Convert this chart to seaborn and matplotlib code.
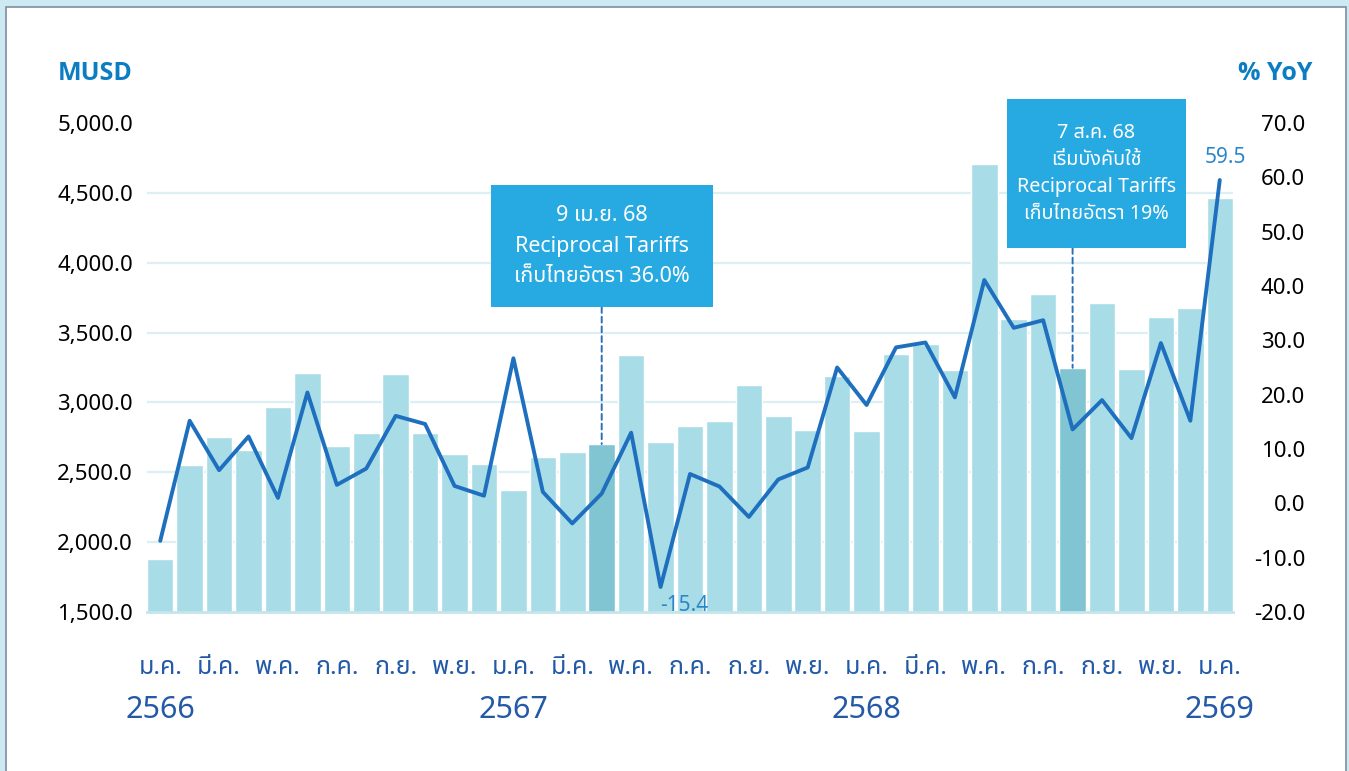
import numpy as np
import pandas as pd
import matplotlib
matplotlib.use("Agg")
import matplotlib.pyplot as plt
import seaborn as sns
from matplotlib import font_manager as fm
from matplotlib.ft2font import FT2Font
from matplotlib.patches import Rectangle
from matplotlib.ticker import FuncFormatter

# ---------------- data ----------------
period_keys = [f"{y}-{m:02d}" for y in (2566, 2567, 2568) for m in range(1, 13)] + ["2569-01"]
export_musd = [1876, 2552, 2750, 2662, 2967, 3214, 2686, 2783, 3207, 2783, 2629, 2562,
               2371, 2612, 2645, 2702, 3338, 2719, 2833, 2867, 3124, 2900, 2800, 3190,
               2793, 3348, 3421, 3233, 4705, 3595, 3779, 3248, 3712, 3240, 3612, 3679,
               4464]
yoy_pct = [-6.9, 15.2, 6.1, 12.3, 1.0, 20.4, 3.4, 6.4, 16.1, 14.6, 3.2, 1.4,
           26.7, 2.1, -3.7, 1.8, 13.0, -15.4, 5.4, 3.1, -2.5, 4.4, 6.6, 25.0,
           18.1, 28.7, 29.6, 19.5, 41.1, 32.3, 33.7, 13.6, 19.0, 12.0, 29.5, 15.2,
           59.5]
month_ticks = ["ม.ค.", "มี.ค.", "พ.ค.", "ก.ค.", "ก.ย.", "พ.ย.",
               "ม.ค.", "มี.ค.", "พ.ค.", "ก.ค.", "ก.ย.", "พ.ย.",
               "ม.ค.", "มี.ค.", "พ.ค.", "ก.ค.", "ก.ย.", "พ.ย.",
               "ม.ค."]
year_labels = ["2566", "2567", "2568", "2569"]
year_index = [0, 12, 24, 36]
highlight_index = [15, 31]
left_ticks = [1500, 2000, 2500, 3000, 3500, 4000, 4500, 5000]
right_ticks = [-20, -10, 0, 10, 20, 30, 40, 50, 60, 70]
note1_lines = ["9 เม.ย. 68", "Reciprocal Tariffs", "เก็บไทยอัตรา 36.0%"]
note2_lines = ["7 ส.ค. 68", "เริ่มบังคับใช้", "Reciprocal Tariffs", "เก็บไทยอัตรา 19%"]
label_points = [17, 36]

# ---------------- fonts ----------------
sns.set_style("white")


def wnum(w):
    if isinstance(w, str):
        return fm.weight_dict.get(w, 400)
    return int(w)


thai = []
weights = {}
for fe in fm.fontManager.ttflist:
    weights.setdefault(fe.name, set()).add(wnum(fe.weight))
    try:
        cm = FT2Font(fe.fname).get_charmap()
        if 0x0E01 in cm and 0x0E40 in cm and fe.name not in thai:
            thai.append(fe.name)
    except Exception:
        pass
pref = sorted(thai, key=lambda n: (0 if "Noto Sans Thai" == n else 1 if "Thai" in n else 2, n))
thai_font = pref[0] if pref else "DejaVu Sans"
fam = [thai_font, "Noto Sans", "DejaVu Sans"]
plt.rcParams["font.family"] = fam

bold_font = next((n for n in ["Noto Sans", "Open Sans", "Lato", "Roboto", "DejaVu Sans"]
                  if any(w >= 700 for w in weights.get(n, ()))), "DejaVu Sans")
thai_w = weights.get(thai_font, {400})
mid_weight = 500 if 500 in thai_w else (600 if 600 in thai_w else 400)

# ---------------- figure ----------------
fig = plt.figure(figsize=(13.49, 7.71), dpi=100, facecolor="#cde9f1")
fig.patches.append(Rectangle((6 / 1349, -0.02), 1340 / 1349, 764 / 771 + 0.02,
                             transform=fig.transFigure, facecolor="white",
                             edgecolor="#7d8ea3", lw=1.2, zorder=-5))
ax = fig.add_axes([147 / 1349, 159 / 771, 1086 / 1349, 489 / 771])
ax.set_facecolor("none")

df = pd.DataFrame({"period": period_keys, "musd": export_musd, "yoy": yoy_pct})
bar_colors = ["#82c5d2" if i in highlight_index else "#a8dce6" for i in range(len(df))]
sns.barplot(data=df, x="period", y="musd", hue="period", palette=bar_colors,
            legend=False, width=0.9, saturation=1, ax=ax, zorder=2)
ax.set_xlim(-0.45, len(df) - 0.55)
ax.set_ylim(1500, 5000)
ax.set_yticks(left_ticks)
ax.yaxis.set_major_formatter(FuncFormatter(lambda v, p: f"{v:,.1f}"))
ax.grid(axis="y", color="#dbeff4", lw=1.6, zorder=0)
ax.set_axisbelow(True)
ax.get_ygridlines()[-1].set_visible(False)
for s in ["top", "right", "left"]:
    ax.spines[s].set_visible(False)
ax.spines["bottom"].set_color("#c4e5ec")
ax.spines["bottom"].set_linewidth(2)
ax.tick_params(axis="y", length=0, pad=10, labelsize=16, labelcolor="black")
ax.set_xticks(range(0, len(df), 2))
ax.set_xticklabels(month_ticks, fontweight=mid_weight)
ax.tick_params(axis="x", length=0, pad=31, labelsize=18, labelcolor="#2459a8")
ax.set_xlabel("")
ax.set_ylabel("")
for i, yl in zip(year_index, year_labels):
    ax.text(i, -0.2, yl, transform=ax.get_xaxis_transform(), ha="center", va="center",
            fontsize=22, color="#2459a8", fontweight=mid_weight)

ax.text(-0.082, 1.102, "MUSD", transform=ax.transAxes, fontsize=18, fontweight="bold",
        family=[bold_font, "DejaVu Sans"], color="#0b7dc2", ha="left", va="center")

ax2 = ax.twinx()
sns.lineplot(x=np.arange(len(df)), y=df["yoy"], ax=ax2, color="#1f6fbf", lw=2.8, zorder=3)
ax2.set_ylim(-20, 70)
ax2.set_yticks(right_ticks)
ax2.yaxis.set_major_formatter(FuncFormatter(lambda v, p: f"{v:.1f}"))
for s in ax2.spines.values():
    s.set_visible(False)
ax2.tick_params(axis="y", length=0, pad=52, labelsize=16, labelcolor="black")
for t in ax2.get_yticklabels():
    t.set_horizontalalignment("right")
ax2.set_ylabel("")
ax2.text(1.0387, 1.102, "% YoY", transform=ax2.transAxes, fontsize=18, fontweight="bold",
         family=[bold_font, "DejaVu Sans"], color="#0b7dc2", ha="center", va="center")

# value labels
offsets = {17: (17, -13), 36: (4, 16)}
for i in label_points:
    ax2.annotate(f"{yoy_pct[i]:.1f}", xy=(i, yoy_pct[i]), xytext=offsets[i],
                 textcoords="offset points", ha="center", va="center",
                 fontsize=15, color="#2a86c8", zorder=7)

# annotation boxes
def note(lines, x0, x1, y0, y1, bar_i, fs, ls):
    ax2.add_patch(Rectangle((x0, y0), x1 - x0, y1 - y0, transform=ax2.transAxes,
                            facecolor="#27a9e1", edgecolor="none", clip_on=False, zorder=5))
    ax2.text((x0 + x1) / 2, (y0 + y1) / 2, "\n".join(lines), transform=ax2.transAxes,
             ha="center", va="center", color="white", fontsize=fs, linespacing=ls,
             fontweight=mid_weight, zorder=6, clip_on=False)
    ax2.annotate("", xy=(bar_i, export_musd[bar_i]), xycoords=ax.transData,
                 xytext=(bar_i, y0), textcoords=("data", "axes fraction"),
                 arrowprops=dict(arrowstyle="-", linestyle=(0, (3, 2)), color="#2a6fb8",
                                 lw=1.4, shrinkA=0, shrinkB=0), zorder=4)

note(note1_lines, 0.3168, 0.5212, 0.6237, 0.8732, 15, 15.5, 1.6)
note(note2_lines, 0.7919, 0.9567, 0.7444, 1.049, 31, 14.2, 1.45)

fig.savefig("out.png", dpi=100, facecolor=fig.get_facecolor())
